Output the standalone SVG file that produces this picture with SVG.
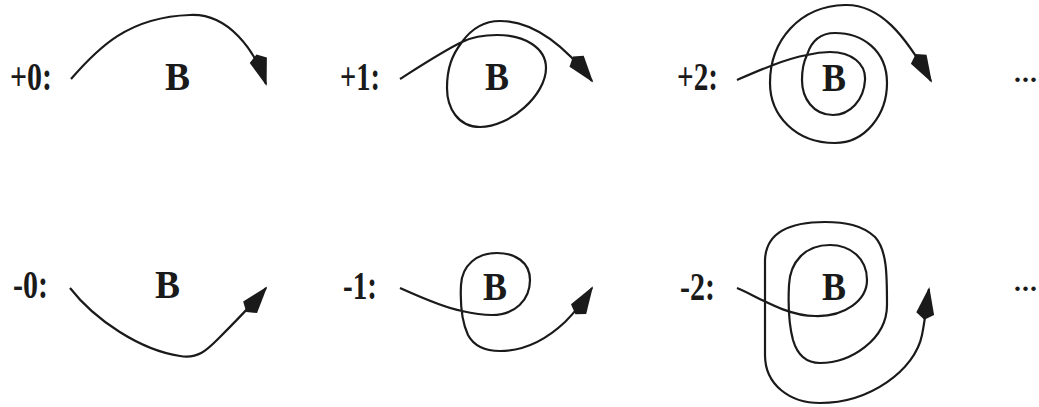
<svg xmlns="http://www.w3.org/2000/svg" width="1039" height="407" viewBox="0 0 1039 407">
<style>
.lbl{font-family:"Liberation Serif","Times New Roman",serif;font-weight:bold;font-size:40px;fill:#1a1a1a}
.b{font-family:"Liberation Serif","Times New Roman",serif;font-weight:bold;font-size:41px;fill:#1a1a1a}
.dots{font-family:"Liberation Serif","Times New Roman",serif;font-weight:bold;font-size:28px;fill:#1a1a1a}
.c{fill:none;stroke:#1a1a1a;stroke-width:2.2;stroke-linejoin:round;marker-end:url(#head)}
</style>
<defs>
<marker id="head" markerUnits="userSpaceOnUse" viewBox="-34 -11 38 22" refX="0" refY="0" markerWidth="38" markerHeight="22" orient="auto" overflow="visible">
<path d="M2,0 L-25,-9 L-31,0 L-25,9 Z" fill="#1a1a1a"/>
</marker>
</defs>
<rect width="1039" height="407" fill="#fff"/>
<g id="p0">
<text class="lbl" x="10" y="90" textLength="42" lengthAdjust="spacingAndGlyphs">+0:</text>
<text class="b" x="165" y="90" textLength="25" lengthAdjust="spacingAndGlyphs">B</text>
</g>
<g id="p1">
<text class="lbl" x="340" y="90" textLength="40" lengthAdjust="spacingAndGlyphs">+1:</text>
<text class="b" x="485" y="90" textLength="24" lengthAdjust="spacingAndGlyphs">B</text>
</g>
<g id="p2">
<text class="lbl" x="677" y="90" textLength="41" lengthAdjust="spacingAndGlyphs">+2:</text>
<text class="b" x="822" y="91" textLength="24" lengthAdjust="spacingAndGlyphs">B</text>
</g>
<g id="pdots">
<text class="dots" x="1014" y="82" textLength="23" lengthAdjust="spacing">...</text>
</g>
<g id="m0">
<text class="lbl" x="13" y="298" textLength="35" lengthAdjust="spacingAndGlyphs">-0:</text>
<text class="b" x="155" y="298" textLength="25" lengthAdjust="spacingAndGlyphs">B</text>
</g>
<g id="m1">
<text class="lbl" x="343" y="299" textLength="34" lengthAdjust="spacingAndGlyphs">-1:</text>
<text class="b" x="483" y="300" textLength="24" lengthAdjust="spacingAndGlyphs">B</text>
</g>
<g id="m2">
<text class="lbl" x="680" y="300" textLength="35" lengthAdjust="spacingAndGlyphs">-2:</text>
<text class="b" x="822" y="300" textLength="24" lengthAdjust="spacingAndGlyphs">B</text>
</g>
<g id="mdots">
<text class="dots" x="1014" y="291" textLength="23" lengthAdjust="spacing">...</text>
</g>
<g id="connectors">
<path class="c" d="M71,79 C98,48 128,17 190,15 C228,13 255,50 266,84"/>
<path class="c" d="M400,79 C425,63 445,50 462,42 C472,37 484,35 497,35 C525,35 546,48 546,68 C546,95 510,127 480,127 C458,127 447,108 447,88 C447,68 452,55 462,42 C472,28 485,21 500,21 C530,21 560,40 592,81"/>
<path class="c" d="M737,80 C760,70 785,59 807,55 C815,53 822,52 830,52 C852,52 866,64 865,80 C864,100 850,115 833,115 C813,115 802,98 802,80 C802,70 804,61 807,55 C811,42 820,33 835,33 C862,33 887,50 887,83 C887,115 865,143 835,143 C795,143 770,115 770,83 C770,40 800,6 845,5 C880,4 905,35 931,81"/>
<path class="c" d="M70,288 C95,320 140,350 180,356 C198,359 207,350 218,339 C235,322 252,305 266,288"/>
<path class="c" d="M400,288 C420,297 445,308 462,311 C475,314 483,315 492,315 C515,315 530,300 530,280 C530,262 515,253 497,253 C477,253 462,265 461,285 C460,305 462,322 468,335 C475,348 487,351 500,351 C525,351 548,338 565,322 C575,312 585,299 592,288"/>
<path class="c" d="M737,288 C755,295 785,316 815,316 C845,317 867,300 867,280 C867,258 850,245 830,245 C805,245 790,262 789,285 C788,305 789,325 793,340 C798,357 808,363 820,363 C850,363 887,340 887,305 C887,275 887,250 875,237 C862,225 845,222 825,222 C790,222 766,232 765,260 L765,355 C765,385 790,403 820,403 C870,403 915,370 922,335 C925,320 927,302 929,289"/>
</g>
</svg>
